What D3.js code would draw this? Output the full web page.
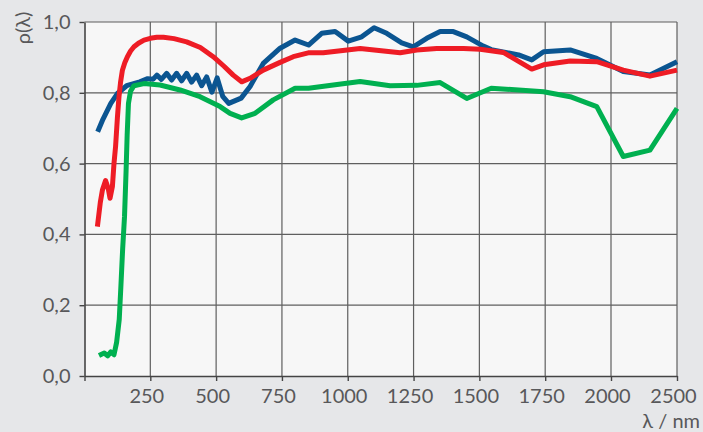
<!DOCTYPE html>
<html>
<head>
<meta charset="utf-8">
<script src="https://cdn.jsdelivr.net/npm/d3@7"></script>
<style>
  html, body { margin: 0; padding: 0; background: #e6e7e9; }
  svg { display: block; }
  text { font-family: "Lato", "Open Sans", sans-serif; fill: #58585a; }
</style>
</head>
<body>
<svg id="chart" width="703" height="432"></svg>
<script>
// Wavelength axis ticks (nm) and their labels
const xTickValues = [0, 250, 500, 750, 1000, 1250, 1500, 1750, 2000, 2500];
const xTickLabels = ["", "250", "500", "750", "1000", "1250", "1500", "1750", "2000", "2500"];
// Reflectance axis ticks
const yTickValues = [0, 0.2, 0.4, 0.6, 0.8, 1.0];
const yTickLabels = ["0,0", "0,2", "0,4", "0,6", "0,8", "1,0"];

// Blue sample
const blueWl  = [50, 70, 100, 125, 160, 210, 240, 260, 275, 292, 312, 331, 350, 369, 388, 407, 426, 445, 464, 484, 504, 525, 548, 595, 629, 679, 743, 800, 851, 901, 952, 1002, 1053, 1100, 1148, 1205, 1249, 1300, 1351, 1401, 1452, 1515, 1545, 1649, 1699, 1744, 1845, 1946, 2093, 2295, 2500];
const blueRho = [0.690, 0.725, 0.770, 0.798, 0.820, 0.831, 0.840, 0.838, 0.850, 0.838, 0.855, 0.836, 0.855, 0.834, 0.855, 0.830, 0.850, 0.820, 0.845, 0.802, 0.842, 0.790, 0.770, 0.785, 0.818, 0.883, 0.926, 0.949, 0.935, 0.968, 0.973, 0.946, 0.958, 0.984, 0.968, 0.941, 0.930, 0.954, 0.973, 0.973, 0.958, 0.932, 0.922, 0.907, 0.893, 0.916, 0.921, 0.897, 0.860, 0.850, 0.888];

// Red sample
const redWl  = [49, 60, 68, 80, 90, 97, 106, 112, 118, 125, 131, 137, 144, 153, 163, 175, 188, 205, 226, 250, 275, 300, 340, 388, 440, 489, 530, 565, 597, 629, 679, 743, 793, 850, 907, 1047, 1199, 1262, 1338, 1440, 1503, 1591, 1699, 1744, 1845, 1946, 2093, 2295, 2500];
const redRho = [0.422, 0.490, 0.525, 0.552, 0.530, 0.502, 0.535, 0.600, 0.648, 0.730, 0.789, 0.830, 0.864, 0.885, 0.902, 0.918, 0.930, 0.940, 0.949, 0.954, 0.957, 0.957, 0.953, 0.944, 0.928, 0.902, 0.875, 0.850, 0.831, 0.841, 0.864, 0.886, 0.902, 0.913, 0.913, 0.925, 0.913, 0.921, 0.925, 0.925, 0.923, 0.914, 0.867, 0.879, 0.890, 0.888, 0.864, 0.847, 0.864];

// Green sample
const greenWl  = [55, 75, 88, 100, 112, 122, 132, 138, 145, 152, 158, 162, 167, 175, 188, 226, 287, 363, 439, 515, 553, 597, 648, 717, 800, 851, 945, 1047, 1161, 1262, 1351, 1452, 1545, 1649, 1744, 1845, 1946, 2093, 2295, 2500];
const greenRho = [0.058, 0.065, 0.057, 0.068, 0.060, 0.095, 0.160, 0.250, 0.360, 0.450, 0.580, 0.680, 0.770, 0.805, 0.820, 0.826, 0.822, 0.808, 0.789, 0.761, 0.742, 0.729, 0.742, 0.780, 0.813, 0.813, 0.822, 0.832, 0.820, 0.821, 0.829, 0.784, 0.813, 0.808, 0.803, 0.789, 0.761, 0.620, 0.638, 0.756];

const svg = d3.select("#chart");
const plotLeft = 84.5, plotRight = 677, plotTop = 22, plotBottom = 376;

// The last interval (2000 to 2500) gets the same width as a 250 nm step
const x = d3.scaleLinear().domain([0, 2000, 2500]).range([plotLeft, 611, plotRight]);
const y = d3.scaleLinear().domain([0, 1]).range([plotBottom, plotTop]);

// Plot background
svg.append("rect")
  .attr("x", plotLeft).attr("y", plotTop)
  .attr("width", plotRight - plotLeft).attr("height", plotBottom - plotTop)
  .attr("fill", "#f7f7f7");

// Grid
const grid = svg.append("g").attr("stroke", "#5f5f5f").attr("stroke-width", 1.2);
grid.selectAll("line.v").data(xTickValues.slice(1)).join("line")
  .attr("class", "v")
  .attr("x1", d => x(d)).attr("x2", d => x(d))
  .attr("y1", plotTop).attr("y2", plotBottom);
grid.selectAll("line.h").data(yTickValues.slice(1)).join("line")
  .attr("class", "h")
  .attr("x1", plotLeft).attr("x2", plotRight)
  .attr("y1", d => y(d)).attr("y2", d => y(d));

// Axes
const xAxis = d3.axisBottom(x)
  .tickValues(xTickValues)
  .tickFormat((d, i) => xTickLabels[i])
  .tickSizeInner(5).tickSizeOuter(0).tickPadding(8);
const gx = svg.append("g").attr("transform", `translate(0,${plotBottom})`).call(xAxis);

const yAxis = d3.axisLeft(y)
  .tickValues(yTickValues)
  .tickFormat((d, i) => yTickLabels[i])
  .tickSizeInner(5).tickSizeOuter(0).tickPadding(9);
const gy = svg.append("g").attr("transform", `translate(${plotLeft},0)`).call(yAxis);

[gx, gy].forEach(g => {
  g.select(".domain").attr("stroke", "#444").attr("stroke-width", 1.6);
  g.selectAll(".tick line").attr("stroke", "#444").attr("stroke-width", 1.4);
  g.selectAll(".tick text")
    .attr("font-family", "Lato, 'Open Sans', sans-serif")
    .attr("font-size", 20)
    .attr("fill", "#58585a");
});
gx.selectAll(".tick text").attr("dx", -4);

// Axis titles
svg.append("text")
  .attr("x", 700).attr("y", 428)
  .attr("text-anchor", "end")
  .attr("font-size", 20)
  .text("λ / nm");

svg.append("text")
  .attr("transform", "translate(30,28) rotate(-90)")
  .attr("text-anchor", "middle")
  .attr("font-size", 20)
  .text("ρ(λ)");

// Spectra
const line = d3.line().x(d => x(d[0])).y(d => y(d[1]));
const series = [
  { wl: blueWl, rho: blueRho, color: "#0b5591" },
  { wl: greenWl, rho: greenRho, color: "#00b050" },
  { wl: redWl, rho: redRho, color: "#ee1c25" }
];
svg.append("g").selectAll("path").data(series).join("path")
  .attr("d", s => line(d3.zip(s.wl, s.rho)))
  .attr("fill", "none")
  .attr("stroke", s => s.color)
  .attr("stroke-width", 5)
  .attr("stroke-linejoin", "round");
</script>
</body>
</html>
